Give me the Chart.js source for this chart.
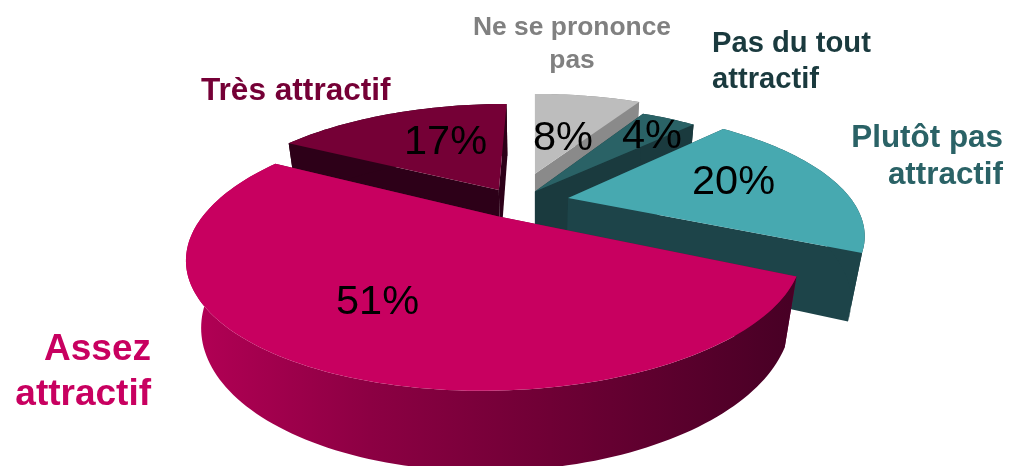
<!DOCTYPE html>
<html lang="fr">
<head>
<meta charset="utf-8">
<title>Attractivité</title>
<script src="https://cdn.jsdelivr.net/npm/chart.js@4"></script>
<style>
    html, body { margin: 0; padding: 0; background: #fff; }
    canvas { display: block; }
</style>
</head>
<body>
<canvas id="pieChart" width="1010" height="466"></canvas>
<script>
// Valeurs
const categories = ['Ne se prononce pas', 'Pas du tout attractif', 'Plutôt pas attractif', 'Assez attractif', 'Très attractif'];
const values = [8, 4, 20, 51, 17];

const topColors = ['#bdbdbd', '#2a6266', '#47a9b0', '#c80060', '#750036'];
const wallColors = ['#8a8a8a', '#1a3a3e', '#1d4449', '#7a0040', '#2d0018'];
const explode = [215, 91, 150, 106, 100];
const drawOrder = [0, 1, 2, 4, 3];

// Perspective de la camera (point de fuite en x = vx, centre du plan decale de u0)
const view = { vx: 535, u0: -0.067, cy: 202, A: 285, B: 116, C: 66, a: 0.28, b: 0.04 };

function project(u, v, z) {
    const w = 1 - view.a * v + view.b * z;
    return [view.vx + view.A * (u + view.u0) / w, view.cy + (view.B * v + view.C * z) / w];
}

function tracePoints(ctx, pts) {
    ctx.beginPath();
    pts.forEach((p, i) => i ? ctx.lineTo(p[0], p[1]) : ctx.moveTo(p[0], p[1]));
    ctx.closePath();
}

function drawSlice(ctx, arc, index) {
    const R = arc.outerRadius;
    const mid = (arc.startAngle + arc.endAngle) / 2;
    // Chart.js deplace l'arc de offset / 4
    const o = arc.options.offset / 4 / R;
    const ou = Math.cos(mid) * o;
    const ov = Math.sin(mid) * o;
    const steps = Math.ceil((arc.endAngle - arc.startAngle) * 40);
    const rim = [];
    for (let i = 0; i <= steps; i++) {
        const t = arc.startAngle + (arc.endAngle - arc.startAngle) * i / steps;
        rim.push([ou + Math.cos(t), ov + Math.sin(t)]);
    }
    const apex = [ou, ov];
    const at = (p, z) => project(p[0], p[1], z);

    // faces de coupe
    ctx.fillStyle = wallColors[index];
    [rim[0], rim[steps]].forEach(p => {
        tracePoints(ctx, [at(apex, 0), at(p, 0), at(p, 1), at(apex, 1)]);
        ctx.fill();
    });

    // bord exterieur
    if (index === 3) {
        const g = ctx.createLinearGradient(190, 0, 790, 0);
        g.addColorStop(0, '#b30055');
        g.addColorStop(0.3, '#8c0043');
        g.addColorStop(0.6, '#6f0035');
        g.addColorStop(1, '#480025');
        ctx.fillStyle = g;
    }
    tracePoints(ctx, rim.map(p => at(p, 0)).concat(rim.slice().reverse().map(p => at(p, 1))));
    ctx.fill();

    // dessus
    ctx.fillStyle = arc.options.backgroundColor;
    tracePoints(ctx, [at(apex, 0)].concat(rim.map(p => at(p, 0))));
    ctx.fill();
}

const pie3d = {
    id: 'pie3d',
    beforeDatasetsDraw(chart) {
        const arcs = chart.getDatasetMeta(0).data;
        drawOrder.forEach(i => drawSlice(chart.ctx, arcs[i], i));
        return false;
    },
    afterDraw(chart) {
        const ctx = chart.ctx;
        ctx.save();
        ctx.textBaseline = 'alphabetic';

        // pourcentages
        const spots = [[533, 150], [622, 148], [692, 194], [336, 314], [404, 154]];
        ctx.fillStyle = '#000';
        ctx.font = '41.5px "Liberation Sans", Arial, sans-serif';
        ctx.textAlign = 'left';
        values.forEach((val, i) => ctx.fillText(val + '%', spots[i][0], spots[i][1]));

        // etiquettes
        const texts = [
            ['Ne se prononce', 572, 35, 'center', 26.4, 0],
            ['pas', 572, 68, 'center', 26.4, 0],
            ['Pas du tout', 712, 52, 'left', 29.2, 1],
            ['attractif', 712, 88, 'left', 29.2, 1],
            ['Plutôt pas', 1003, 147, 'right', 31.4, 2],
            ['attractif', 1003, 184, 'right', 31.4, 2],
            ['Assez', 151, 360, 'right', 37, 3],
            ['attractif', 151, 405, 'right', 37, 3],
            ['Très attractif', 201, 100, 'left', 31.6, 4]
        ];
        const labelColors = ['#808080', '#1a3a3e', '#2a6266', '#c80060', '#750036'];
        texts.forEach(t => {
            ctx.font = 'bold ' + t[4] + 'px "Liberation Sans", Arial, sans-serif';
            ctx.textAlign = t[3];
            ctx.fillStyle = labelColors[t[5]];
            ctx.fillText(t[0], t[1], t[2]);
        });
        ctx.restore();
    }
};

new Chart(document.getElementById('pieChart'), {
    type: 'pie',
    data: {
        labels: categories,
        datasets: [{
            data: values,
            backgroundColor: topColors,
            offset: explode,
            borderWidth: 0
        }]
    },
    options: {
        responsive: false,
        animation: false,
        radius: 200,
        rotation: 0,
        plugins: {
            legend: { display: false },
            tooltip: { enabled: false }
        }
    },
    plugins: [pie3d]
});
</script>
</body>
</html>
